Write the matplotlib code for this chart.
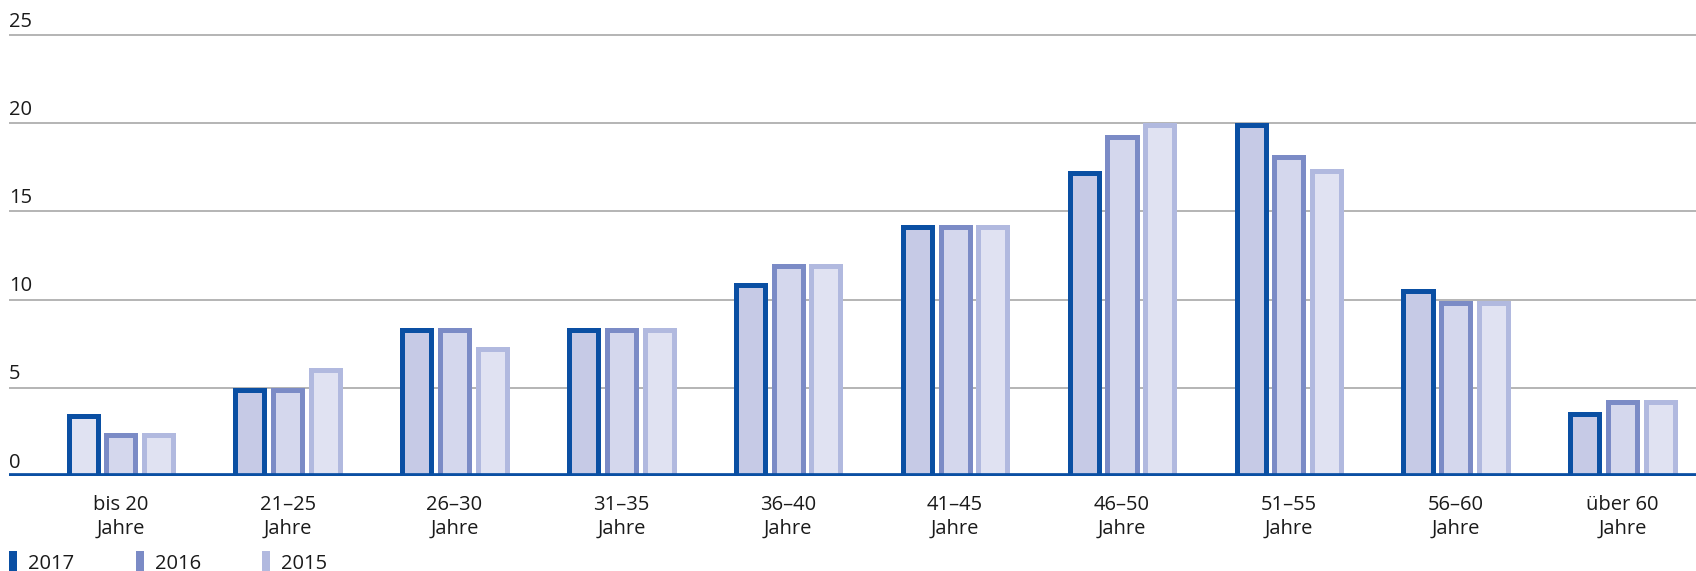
import matplotlib.pyplot as plt
from matplotlib.patches import Patch
import numpy as np

plt.rcParams['font.family'] = ['Open Sans', 'DejaVu Sans']

# age groups and share per year (percent)
groups = ['bis 20\nJahre', '21–25\nJahre', '26–30\nJahre', '31–35\nJahre', '36–40\nJahre',
          '41–45\nJahre', '46–50\nJahre', '51–55\nJahre', '56–60\nJahre', 'über 60\nJahre']
years = ['2017', '2016', '2015']
v2017 = [3.4, 4.9, 8.3, 8.3, 10.8, 14.1, 17.2, 19.9, 10.5, 3.5]
v2016 = [2.3, 4.9, 8.3, 8.3, 11.9, 14.1, 19.2, 18.1, 9.8, 4.2]
v2015 = [2.3, 6.0, 7.2, 8.3, 11.9, 14.1, 19.9, 17.3, 9.8, 4.2]
yticks = [0, 5, 10, 15, 20, 25]

edge_cols = ['#0a4fa3', '#7b8bc6', '#b1b9df']
fill_cols = ['#c6cae6', '#d4d7ed', '#e0e2f2']
txt = '#1a1a1a'

W, H = 1696, 571
fig = plt.figure(figsize=(W / 100, H / 100), dpi=100)
ax = fig.add_axes([9 / W, 95 / H, 1 - 9 / W, 476 / H])

x = np.arange(len(groups))
off = 0.226
bw = 0.174
lw = 3.6

for v, dx, ec, fc in zip([v2017, v2016, v2015], [-off, 0, off], edge_cols, fill_cols):
    fcs = [fc] * len(v)
    if v is v2017:
        fcs[0] = fill_cols[2]
    ax.bar(x + dx, v, width=bw, color=fcs, edgecolor=ec, linewidth=lw, zorder=3)

ax.set_xlim(-0.67, 9.44)
ax.set_ylim(0, 26.98)

for t in yticks[1:]:
    ax.axhline(t, color='#a0a0a0', lw=1.1, zorder=1)
ax.axhline(0.08, color=edge_cols[0], lw=3.4, zorder=4)

for t in yticks:
    ax.annotate(str(t), xy=(0, t), xycoords=ax.get_yaxis_transform(),
                xytext=(0, 6), textcoords='offset points',
                ha='left', va='baseline', fontsize=14.5, color=txt)

ax.set_yticks([])
ax.set_xticks(x)
ax.set_xticklabels(groups, fontsize=14.5, color=txt, linespacing=1.25)
ax.tick_params(axis='x', length=0, pad=14)
for s in ax.spines.values():
    s.set_visible(False)

handles = [Patch(facecolor=c, edgecolor='none') for c in edge_cols]
fig.legend(handles, years, loc='upper left', bbox_to_anchor=(9 / W, 1 - 551 / H),
           ncol=3, frameon=False, fontsize=14.5, handlelength=0.4, handleheight=1.3,
           handletextpad=0.55, columnspacing=3.05, borderpad=0, borderaxespad=0,
           labelcolor=txt)

fig.savefig('out.png', dpi=100)
